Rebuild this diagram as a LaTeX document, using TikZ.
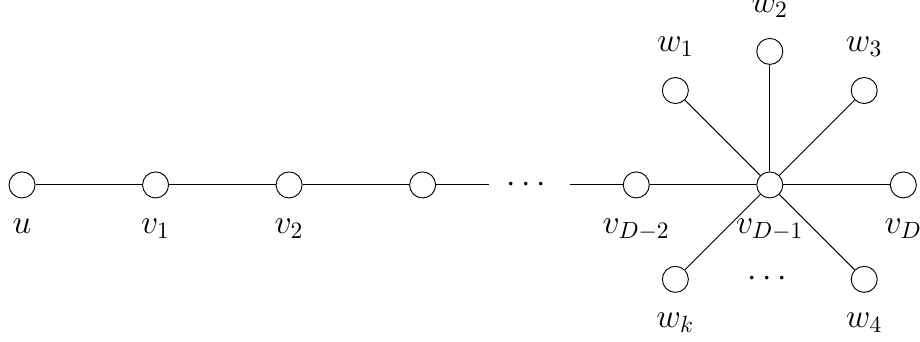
\documentclass[tikz,border=0pt]{standalone}
\usepackage{amsmath}
\usepackage{amssymb}
\usetikzlibrary{calc}
\tikzset{
% node style for the path and star vertices
hollow node/.style={circle,draw,inner sep=0,minimum size=0.39cm},
lbl/.style={label distance=0.18cm}
}

\begin{document}
\begin{tikzpicture}[font=\Large]
\useasboundingbox (-0.33,-2.34) rectangle (13.45,2.77);
% The path
\node(u)[hollow node,label={[lbl]below:{$u$}}] at (0,0) {};
\node(v1)[hollow node,label={[lbl]below:{$v_1$}}] at (2,0) {};
\node(v2)[hollow node,label={[lbl]below:{$v_2$}}] at (4,0) {};
\node(v3)[hollow node] at (6,0) {};
\coordinate(e1) at (7,0);
\node(dots) at (7.6,0) {$\cdots$};
\coordinate(e2) at (8.2,0);
\node(vD2)[hollow node,label={[lbl]below:{$v_{D-2}$}}] at (9.2,0) {};
\node(vD1)[hollow node,label={[lbl]below:{$v_{D-1}$}}] at (11.2,0) {};
\node(vD)[hollow node,label={[lbl]below:{$v_D$}}] at (13.2,0) {};
% The leaves around v_{D-1}
\node(w1)[hollow node,label={[lbl]above:{$w_1$}}] at ($(vD1)+(135:2)$) {};
\node(w2)[hollow node,label={[lbl]above:{$w_2$}}] at ($(vD1)+(90:2)$) {};
\node(w3)[hollow node,label={[lbl]above:{$w_3$}}] at ($(vD1)+(45:2)$) {};
\node(wk)[hollow node,label={[lbl]below:{$w_k$}}] at ($(vD1)+(225:2)$) {};
\node(w4)[hollow node,label={[lbl]below:{$w_4$}}] at ($(vD1)+(315:2)$) {};
\node(wdots) at ($(vD1)+(0,-1.414)$) {$\cdots$};
% edges
\draw(u)--(v1)--(v2)--(v3)--(e1);
\draw(e2)--(vD2)--(vD1)--(vD);
\foreach \w in {w1,w2,w3,wk,w4}
\draw(vD1)--(\w);
\end{tikzpicture}
\end{document}
